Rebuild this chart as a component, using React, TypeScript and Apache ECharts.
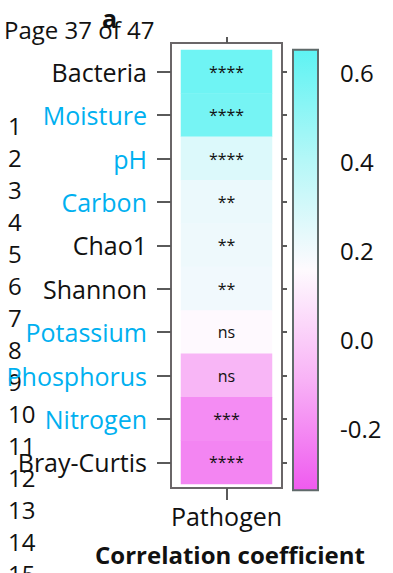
import React, { useEffect, useRef } from "react";
import * as echarts from "echarts";

const categories = [
  "Bacteria",
  "Moisture",
  "pH",
  "Carbon",
  "Chao1",
  "Shannon",
  "Potassium",
  "Phosphorus",
  "Nitrogen",
  "Bray-Curtis",
];
const highlighted = ["Moisture", "pH", "Carbon", "Potassium", "Phosphorus", "Nitrogen"];
const columns = ["Pathogen"];
const correlations = [0.6, 0.58, 0.27, 0.22, 0.21, 0.2, 0.15, -0.08, -0.2, -0.22];
const significance = ["****", "****", "****", "**", "**", "**", "ns", "ns", "***", "****"];
const scaleMin = -0.34;
const scaleMax = 0.65;
const scaleColors = ["#ef5aef", "#f8b2f6", "#fefafe", "#b4f7f7", "#5ef3f3"];
const lineNumbers = ["1", "2", "3", "4", "5", "6", "7", "8", "9", "10", "11", "12", "13", "14", "15"];

const FONT = "'Open Sans', sans-serif";

export default function App() {
  const ref = useRef<HTMLDivElement>(null);
  useEffect(() => {
    if (!ref.current) return;
    const chart = echarts.init(ref.current, null, { renderer: "svg" });
    const heatData = correlations.map((v, i) => [0, i, v]);
    const tickColor = "#5a5a5a";
    const gradientStops = scaleColors
      .map((c, i) => ({ offset: 1 - i / (scaleColors.length - 1), color: c }))
      .reverse();

    const graphicTexts: any[] = [
      {
        type: "text",
        left: 4,
        top: 17,
        style: { text: "Page 37 of 47", font: `24px ${FONT}`, fill: "#111" },
      },
      {
        type: "text",
        left: 102,
        top: 5,
        style: { text: "a", font: `bold 25px ${FONT}`, fill: "#111" },
      },
      {
        type: "text",
        left: 95,
        top: 542,
        style: { text: "Correlation coefficient", font: `bold 24px ${FONT}`, fill: "#111" },
      },
      ...lineNumbers.map((n, i) => ({
        type: "text",
        left: 8,
        top: 113 + i * 32,
        z: -1,
        style: { text: n, font: `24px ${FONT}`, fill: "#111" },
      })),
    ];

    chart.setOption({
      animation: false,
      backgroundColor: "#ffffff",
      grid: [
        { left: 181, width: 91, top: 50, height: 434 },
        {
          left: 171,
          width: 111,
          top: 43,
          height: 445,
          show: true,
          borderColor: "#6a6668",
          borderWidth: 2,
          backgroundColor: "transparent",
        },
        { left: 293, width: 25, top: 72, height: 356 },
      ],
      xAxis: [
        {
          type: "category",
          gridIndex: 0,
          data: columns,
          position: "bottom",
          offset: 4,
          axisLine: { show: false },
          axisTick: { show: true, alignWithLabel: true, length: 12, lineStyle: { color: tickColor, width: 2 } },
          axisLabel: { fontSize: 25, fontFamily: FONT, color: "#111", margin: 15 },
        },
        {
          type: "category",
          gridIndex: 0,
          data: columns,
          position: "top",
          offset: 7,
          axisLine: { show: false },
          axisTick: { show: true, alignWithLabel: true, length: 6, lineStyle: { color: tickColor, width: 2 } },
          axisLabel: { show: false },
        },
        { type: "value", gridIndex: 1, show: false },
        { type: "value", gridIndex: 2, show: false, min: 0, max: 1 },
      ],
      yAxis: [
        {
          type: "category",
          gridIndex: 0,
          data: categories,
          inverse: true,
          position: "left",
          offset: 10,
          axisLine: { show: false },
          axisTick: { show: true, alignWithLabel: true, length: 14, lineStyle: { color: tickColor, width: 2 } },
          axisLabel: {
            fontSize: 25,
            fontFamily: FONT,
            margin: 24,
            color: (v: string) => (highlighted.includes(v) ? "#00b0f0" : "#111111"),
          },
        },
        {
          type: "category",
          gridIndex: 0,
          data: categories,
          inverse: true,
          position: "right",
          offset: 10,
          axisLine: { show: false },
          axisTick: { show: true, alignWithLabel: true, length: 5, lineStyle: { color: tickColor, width: 2 } },
          axisLabel: { show: false },
        },
        { type: "value", gridIndex: 1, show: false },
        {
          type: "value",
          gridIndex: 2,
          min: -0.2,
          max: 0.6,
          interval: 0.2,
          position: "right",
          axisLine: { show: false },
          splitLine: { show: false },
          axisTick: { show: true, length: 14, lineStyle: { color: tickColor, width: 2 } },
          axisLabel: {
            fontSize: 24,
            fontFamily: FONT,
            color: "#111",
            margin: 22,
            formatter: (v: number) => v.toFixed(1),
          },
        },
      ],
      visualMap: {
        type: "continuous",
        show: false,
        seriesIndex: 0,
        min: scaleMin,
        max: scaleMax,
        inRange: { color: scaleColors },
      },
      series: [
        {
          type: "heatmap",
          xAxisIndex: 0,
          yAxisIndex: 0,
          data: heatData,
          label: {
            show: true,
            fontSize: 16,
            fontFamily: FONT,
            color: "#111",
            formatter: (p: any) => significance[p.data[1]],
          },
          itemStyle: { borderWidth: 0 },
        },
        {
          type: "custom",
          xAxisIndex: 3,
          yAxisIndex: 3,
          clip: false,
          data: [[0, scaleMin, scaleMax]],
          encode: { x: 0, y: [1, 2] },
          renderItem: (params: any, api: any) => {
            const cs = params.coordSys;
            const top = api.coord([0, api.value(2)]);
            const bottom = api.coord([0, api.value(1)]);
            return {
              type: "rect",
              shape: { x: cs.x, y: top[1], width: cs.width, height: bottom[1] - top[1] },
              style: {
                fill: new echarts.graphic.LinearGradient(0, 0, 0, 1, gradientStops),
                stroke: "#5f6a6a",
                lineWidth: 2,
              },
            };
          },
        },
      ],
      graphic: graphicTexts,
    });
    return () => chart.dispose();
  }, []);
  return (
    <div
      ref={ref}
      style={{ position: "fixed", left: 0, top: 0, width: 393, height: 573 }}
    />
  );
}
